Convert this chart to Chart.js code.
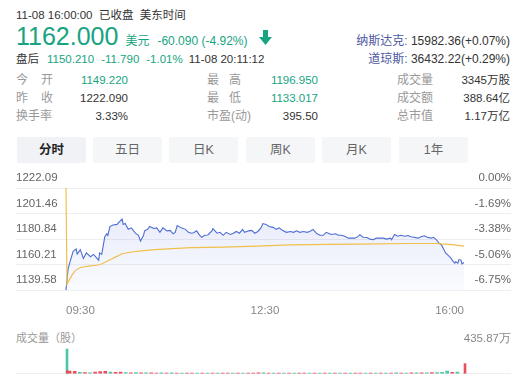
<!DOCTYPE html>
<html><head><meta charset="utf-8">
<script src="https://cdn.jsdelivr.net/npm/chart.js@4.4.0/dist/chart.umd.min.js"></script>
<style>
html,body{margin:0;padding:0;background:#fff;width:530px;height:384px;overflow:hidden;font-family:"Liberation Sans","Noto Sans CJK SC",sans-serif;}
.a{position:absolute;white-space:nowrap;}
.g{color:#17a481;}
.k{color:#333;}
.lb{color:#999;font-size:12px;line-height:15px;}
.v{font-size:11.5px;line-height:15px;text-align:right;}
.j{display:inline-block;text-align:justify;text-align-last:justify;}
.tab{position:absolute;top:137px;width:69px;height:26px;line-height:26px;text-align:center;background:#f5f6f8;color:#666;font-size:12.5px;border-radius:2px;}
canvas{position:absolute;left:0;}
</style></head><body>
<div class="a k" style="left:16px;top:8px;font-size:11.5px;line-height:14px;">11-08 16:00:00&nbsp;&nbsp;已收盘&nbsp;&nbsp;美东时间</div>
<div class="a g" style="left:16px;top:22px;display:flex;align-items:baseline;">
  <span style="font-size:25px;line-height:28px;">1162.000</span>
  <span style="font-size:12px;margin-left:7px;">美元</span>
  <span style="font-size:12px;margin-left:8px;">-60.090 (-4.92%)</span>
</div>
<svg class="a" style="left:259px;top:30px" width="13" height="15" viewBox="0 0 13 15"><polygon points="4,0 9,0 9,7 13,7 6.5,15 0,7 4,7" fill="#17a481"/></svg>
<div class="a" style="right:20px;top:34px;font-size:12px;line-height:15px;"><span style="color:#4d59a3">纳斯达克:</span> <span class="k">15982.36(+0.07%)</span></div>
<div class="a" style="right:20px;top:52px;font-size:12px;line-height:15px;"><span style="color:#4d59a3">道琼斯:</span> <span class="k">36432.22(+0.29%)</span></div>
<div class="a" style="left:16px;top:52px;font-size:11.5px;line-height:15px;"><span class="k">盘后</span><span class="g" style="margin-left:8px">1150.210</span><span class="g" style="margin-left:7px">-11.790</span><span class="g" style="margin-left:7px">-1.01%</span><span class="k" style="margin-left:6px">11-08 20:11:12</span></div>

<div class="a lb" style="left:16px;top:73px;"><span class="j" style="width:37px">今开</span></div>
<div class="a lb" style="left:16px;top:91px;"><span class="j" style="width:37px">昨收</span></div>
<div class="a lb" style="left:16px;top:109px;">换手率</div>
<div class="a v g" style="right:402px;top:73px;">1149.220</div>
<div class="a v k" style="right:402px;top:91px;">1222.090</div>
<div class="a v k" style="right:402px;top:109px;">3.33%</div>

<div class="a lb" style="left:207px;top:73px;"><span class="j" style="width:34px">最高</span></div>
<div class="a lb" style="left:207px;top:91px;"><span class="j" style="width:34px">最低</span></div>
<div class="a lb" style="left:207px;top:109px;">市盈(动)</div>
<div class="a v g" style="right:212px;top:73px;">1196.950</div>
<div class="a v g" style="right:212px;top:91px;">1133.017</div>
<div class="a v k" style="right:212px;top:109px;">395.50</div>

<div class="a lb" style="left:397px;top:73px;">成交量</div>
<div class="a lb" style="left:397px;top:91px;">成交额</div>
<div class="a lb" style="left:397px;top:109px;">总市值</div>
<div class="a v k" style="right:20px;top:73px;">3345万股</div>
<div class="a v k" style="right:20px;top:91px;">388.64亿</div>
<div class="a v k" style="right:20px;top:109px;">1.17万亿</div>

<div class="tab" style="left:17px;background:#f1f2f5;color:#222;font-weight:bold;">分时</div>
<div class="tab" style="left:93px;">五日</div>
<div class="tab" style="left:169px;">日K</div>
<div class="tab" style="left:246px;">周K</div>
<div class="tab" style="left:322px;">月K</div>
<div class="tab" style="left:399px;">1年</div>

<canvas id="price" width="530" height="170" style="top:160px"></canvas>
<div class="a" style="left:16px;top:331px;font-size:11px;line-height:15px;color:#999;">成交量（股）</div>
<canvas id="vol" width="530" height="54" style="top:330px"></canvas>

<script>
const prevClose = 1222.09;
const yTicks = [1139.58, 1160.21, 1180.84, 1201.46, 1222.09];
const xTickLabels = ['09:30', '12:30', '16:00'];

// minutes since 09:30
const priceMin = [0,2,4,7,10,11,14,17,20,24,27,30,32,33,35,38,40,41,43,46,50,52,55,56,58,61,64,68,71,73,76,77,80,82,86,89,92,95,99,102,105,107,109,113,117,120,123,125,128,131,133,136,139,143,144,148,151,154,157,161,164,167,170,173,175,179,182,185,188,191,193,196,199,203,206,209,212,216,220,223,226,229,233,236,239,242,246,249,252,255,257,260,264,267,270,273,277,280,283,286,288,291,295,298,301,304,308,311,314,318,319,322,325,328,332,335,338,341,345,348,351,354,358,360,363,365,368,370,372,375,377,379,381,382,384,385,387,388,390];
const priceVal = [1139.6,1156.6,1162.6,1170.9,1172.8,1168.7,1172.3,1165.2,1169.7,1166.6,1168.5,1165.7,1163.8,1169.7,1168.5,1182.7,1185.1,1183.9,1191.0,1192.2,1192.7,1194.6,1196.9,1192.7,1193.4,1188.7,1189.9,1185.6,1183.9,1179.2,1183.9,1187.5,1188.7,1191.0,1189.4,1189.9,1186.3,1189.9,1187.5,1187.9,1185.1,1186.3,1191.7,1189.9,1188.7,1186.3,1185.6,1186.0,1187.5,1183.9,1182.3,1183.9,1184.2,1187.5,1189.2,1185.6,1186.3,1183.9,1186.3,1184.6,1185.6,1187.0,1185.6,1188.7,1186.3,1187.5,1187.9,1185.6,1187.0,1189.9,1193.4,1192.7,1191.0,1190.3,1188.7,1189.9,1187.9,1186.3,1187.0,1186.3,1187.5,1186.3,1187.0,1186.3,1187.0,1188.7,1185.1,1183.9,1183.9,1186.3,1185.6,1184.6,1185.1,1183.9,1183.9,1183.2,1181.6,1181.6,1181.6,1182.8,1184.4,1182.3,1182.1,1180.8,1180.3,1181.6,1181.6,1181.6,1180.8,1181.6,1180.3,1184.6,1183.2,1183.9,1183.2,1183.7,1182.8,1182.3,1181.6,1182.8,1183.5,1182.3,1181.6,1182.3,1180.3,1178.0,1176.1,1172.8,1169.7,1167.3,1165.7,1163.3,1161.4,1162.6,1161.4,1164.3,1163.8,1160.9,1162.0];

const avgMin = [0,1,2,6,9,14,22,30,35,41,48,55,64,74,87,104,123,154,187,220,255,286,335,362,371,381,390];
const avgVal = [1222.09,1144.5,1146.0,1151.9,1155.4,1157.9,1159.0,1159.7,1160.7,1163.3,1166.1,1169.0,1170.4,1171.4,1172.3,1173.2,1173.9,1174.4,1175.1,1176.1,1176.6,1176.8,1177.3,1177.3,1176.8,1176.1,1175.1];

// volume (万股)
const volMax = 435.87;
const auctionMin = [0, 390];
const auctionVal = [435.87, 178];
const auctionUp = [0, 1];
const volMin = [2,5,10,15,20,25,30,35,40,45,50,55,60,65,70,75,80,85,90,95,100,105,110,115,120,125,130,135,140,145,150,155,160,165,170,175,180,185,190,195,200,205,210,215,220,225,230,235,240,245,250,255,260,265,270,275,280,285,290,295,300,305,310,315,320,325,330,335,340,345,350,355,360,365,370,375,380,385];
const volVal = [55,50,45,28,22,18,30,38,42,32,26,30,20,18,22,16,18,15,14,16,14,15,13,12,14,12,13,12,14,12,11,12,13,11,12,12,13,14,16,15,13,12,12,11,12,13,12,11,12,13,12,11,12,13,12,14,13,12,14,13,12,14,13,12,14,15,13,14,15,16,15,18,20,22,26,48,25,30];
const volUp = [1,1,1,0,1,0,1,1,1,0,1,1,0,1,0,1,0,1,1,0,1,0,1,0,1,1,0,1,0,1,0,1,1,0,1,0,1,1,1,0,1,0,1,0,1,0,1,1,0,1,0,1,0,1,0,1,0,1,1,0,1,0,1,0,1,0,1,0,1,0,1,0,1,0,0,0,1,0];

const RED = '#e9505e', GREEN = '#4cc6a6', GRID = '#eeeeee';
const axisFont = {family: '"Liberation Sans", sans-serif', size: 11.5};

new Chart(document.getElementById('price'), {
  type: 'line',
  data: {
    datasets: [
      {
        data: avgMin.map((m, i) => ({x: m, y: avgVal[i]})),
        borderColor: '#f1c04c', borderWidth: 1.2, pointRadius: 0, fill: false, tension: 0, order: 1, clip: false
      },
      {
        data: priceMin.map((m, i) => ({x: m, y: priceVal[i]})),
        borderColor: '#4d6dd4', borderWidth: 1.1, pointRadius: 0, tension: 0, order: 2, clip: false,
        fill: 'start',
        backgroundColor: (c) => {
          const a = c.chart.chartArea;
          if (!a) return 'rgba(95,120,225,0.1)';
          const g = c.chart.ctx.createLinearGradient(0, a.top, 0, a.bottom);
          g.addColorStop(0, 'rgba(95,120,225,0.18)');
          g.addColorStop(1, 'rgba(95,120,225,0.03)');
          return g;
        }
      }
    ]
  },
  options: {
    responsive: false, animation: false, events: [],
    layout: {padding: {left: 16, right: 19, top: 28, bottom: 6}},
    plugins: {legend: {display: false}, tooltip: {enabled: false}},
    scales: {
      x: {type: 'linear', min: 0, max: 390, display: false},
      xl: {type: 'category', labels: xTickLabels, position: 'bottom', offset: false,
           grid: {display: false}, border: {display: false},
           ticks: {align: 'inner', maxRotation: 0, autoSkip: false, padding: 6, color: '#888', font: axisFont}},
      y: {position: 'left', min: yTicks[0], max: yTicks[yTicks.length - 1],
          afterBuildTicks: s => { s.ticks = yTicks.map(v => ({value: v})); },
          afterFit: s => { s.width = 50; },
          grid: {color: GRID, tickLength: 50}, border: {display: false},
          ticks: {crossAlign: 'far', labelOffset: -10, color: '#666', font: axisFont, callback: v => Number(v).toFixed(2)}},
      y2: {position: 'right', min: yTicks[0], max: yTicks[yTicks.length - 1],
          afterBuildTicks: s => { s.ticks = yTicks.map(v => ({value: v})); },
          afterFit: s => { s.width = 47; },
          grid: {color: GRID, tickLength: 47, drawOnChartArea: false}, border: {display: false},
          ticks: {crossAlign: 'far', labelOffset: -10, color: '#666', font: axisFont,
                  callback: v => ((v - prevClose) / prevClose * 100).toFixed(2) + '%'}}
    }
  }
});

new Chart(document.getElementById('vol'), {
  type: 'bar',
  data: {
    datasets: [
      {data: volMin.map((m, i) => ({x: m, y: volVal[i]})), backgroundColor: volUp.map(u => u ? RED : GREEN), barThickness: 3},
      {data: auctionMin.map((m, i) => ({x: m, y: auctionVal[i]})), backgroundColor: auctionUp.map(u => u ? RED : GREEN), barThickness: 2, clip: false}
    ]
  },
  options: {
    responsive: false, animation: false, events: [],
    layout: {padding: {left: 16, right: 19, top: 19, bottom: 8}},
    plugins: {legend: {display: false}, tooltip: {enabled: false}},
    scales: {
      x: {type: 'linear', min: 0, max: 390, display: false, offset: false},
      yl: {position: 'left', min: 0, max: volMax,
           afterBuildTicks: s => { s.ticks = [{value: 0}]; },
           afterFit: s => { s.width = 50; },
           grid: {color: GRID, tickLength: 50}, border: {display: false},
           ticks: {callback: () => ''}},
      y: {position: 'right', min: 0, max: volMax,
          afterBuildTicks: s => { s.ticks = [{value: 0}, {value: volMax}]; },
          afterFit: s => { s.width = 47; },
          grid: {color: c => (c.tick && c.tick.value === 0) ? GRID : 'rgba(0,0,0,0)', tickLength: 47}, border: {display: false},
          ticks: {crossAlign: 'far', labelOffset: -10, color: '#888', font: axisFont,
                  callback: v => v === volMax ? v.toFixed(2) + '万' : ''}}
    }
  }
});
</script>
</body></html>
